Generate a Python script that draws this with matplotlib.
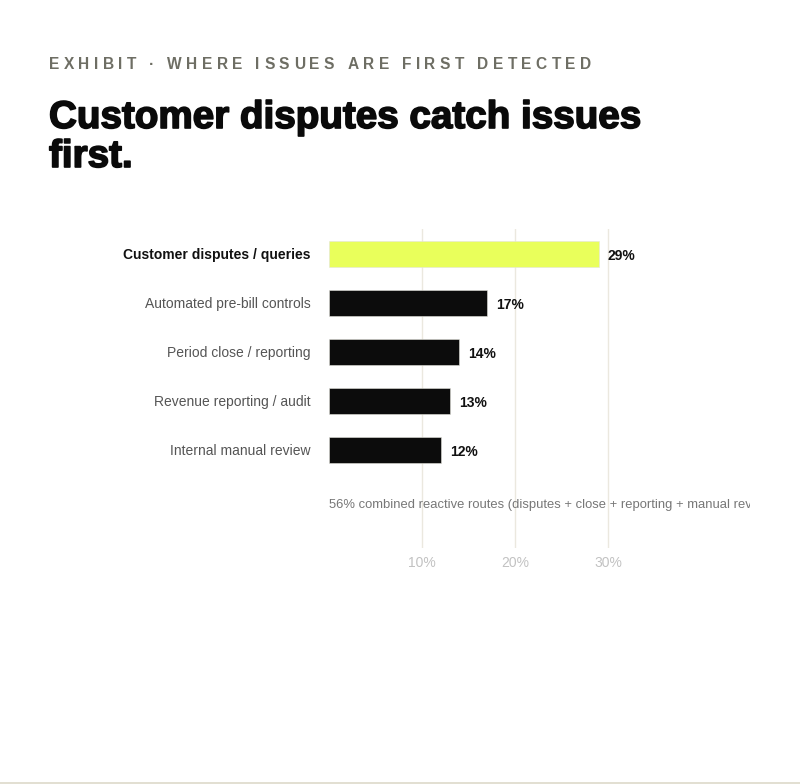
import matplotlib
matplotlib.use("Agg")
import matplotlib.pyplot as plt
import matplotlib.patheffects as pe
from matplotlib.patches import Rectangle

plt.rcParams['font.family'] = ['Liberation Sans', 'DejaVu Sans']

# data
categories = ['Customer disputes / queries', 'Automated pre-bill controls',
              'Period close / reporting', 'Revenue reporting / audit',
              'Internal manual review']
values = [29, 17, 14, 13, 12]
tick_values = [10, 20, 30]
tick_labels = ['10%', '20%', '30%']
kicker = 'EXHIBIT · WHERE ISSUES ARE FIRST DETECTED'
title = 'Customer disputes catch issues\nfirst.'
note = '56% combined reactive routes (disputes + close + reporting + manual review)'

W, H = 800, 784
fig = plt.figure(figsize=(W / 100, H / 100), dpi=100)
fig.patch.set_facecolor('white')

def px(x, y):
    return x / W, 1 - y / H

# letter-spaced kicker, drawn char by char
renderer = fig.canvas.get_renderer()
x = 49
for ch in kicker:
    t = fig.text(*px(x, 69), ch, fontsize=11.2, fontweight='bold', color='#6e6e64',
                 ha='left', va='baseline')
    w = t.get_window_extent(renderer).width
    if ch == ' ':
        w = 4.2
    x += w + 4.4

# headline, one text per line so baselines sit where the reference has them
heavy = [pe.withStroke(linewidth=1.2, foreground='#0a0a0a')]
for line, base in zip(title.split('\n'), [128, 167]):
    fig.text(*px(49, base), line, fontsize=27.8, fontweight='bold', color='#0a0a0a',
             ha='left', va='baseline', path_effects=heavy)

# axes
ax_left, ax_right, ax_top, ax_bot = 329, 750, 229, 548
ax = fig.add_axes([ax_left / W, 1 - ax_bot / H, (ax_right - ax_left) / W, (ax_bot - ax_top) / H])
ax.set_xlim(0, (ax_right - ax_left) / 9.3)
ax.set_ylim(6.0, -0.51)
for s in ax.spines.values():
    s.set_visible(False)

colors = ['#e9ff5b'] + ['#0c0c0c'] * (len(values) - 1)
ax.barh(range(len(values)), values, height=0.53, color=colors,
        edgecolor='#e4e4dc', linewidth=0.4, zorder=2)

for i, v in enumerate(values):
    ax.annotate(f'{v}%', (v, i), xytext=(6.5, -1.5), textcoords='offset points',
                ha='left', va='center', fontsize=10, fontweight='bold', color='#111111')

ax.set_yticks(range(len(categories)))
ax.set_yticklabels(categories, fontsize=10, color='#555555')
ax.get_yticklabels()[0].set_fontweight('bold')
ax.get_yticklabels()[0].set_color('#111111')
ax.tick_params(axis='y', length=0, pad=13)

ax.set_xticks(tick_values)
ax.set_xticklabels(tick_labels, fontsize=10, color='#c2c2c2')
ax.tick_params(axis='x', length=0, pad=6)
ax.grid(axis='x', color='#ebe8df', linewidth=1, zorder=0)
ax.set_axisbelow(True)

ax.text(0, 5.13, note, fontsize=9.4, color='#777777', ha='left', va='center', clip_on=True)

# thin bottom strip
fig.patches.append(Rectangle((0, 0), 1, 2.5 / H, transform=fig.transFigure,
                             facecolor='#e2dfd2', edgecolor='none'))

fig.savefig('out.png', dpi=100, facecolor='white')
